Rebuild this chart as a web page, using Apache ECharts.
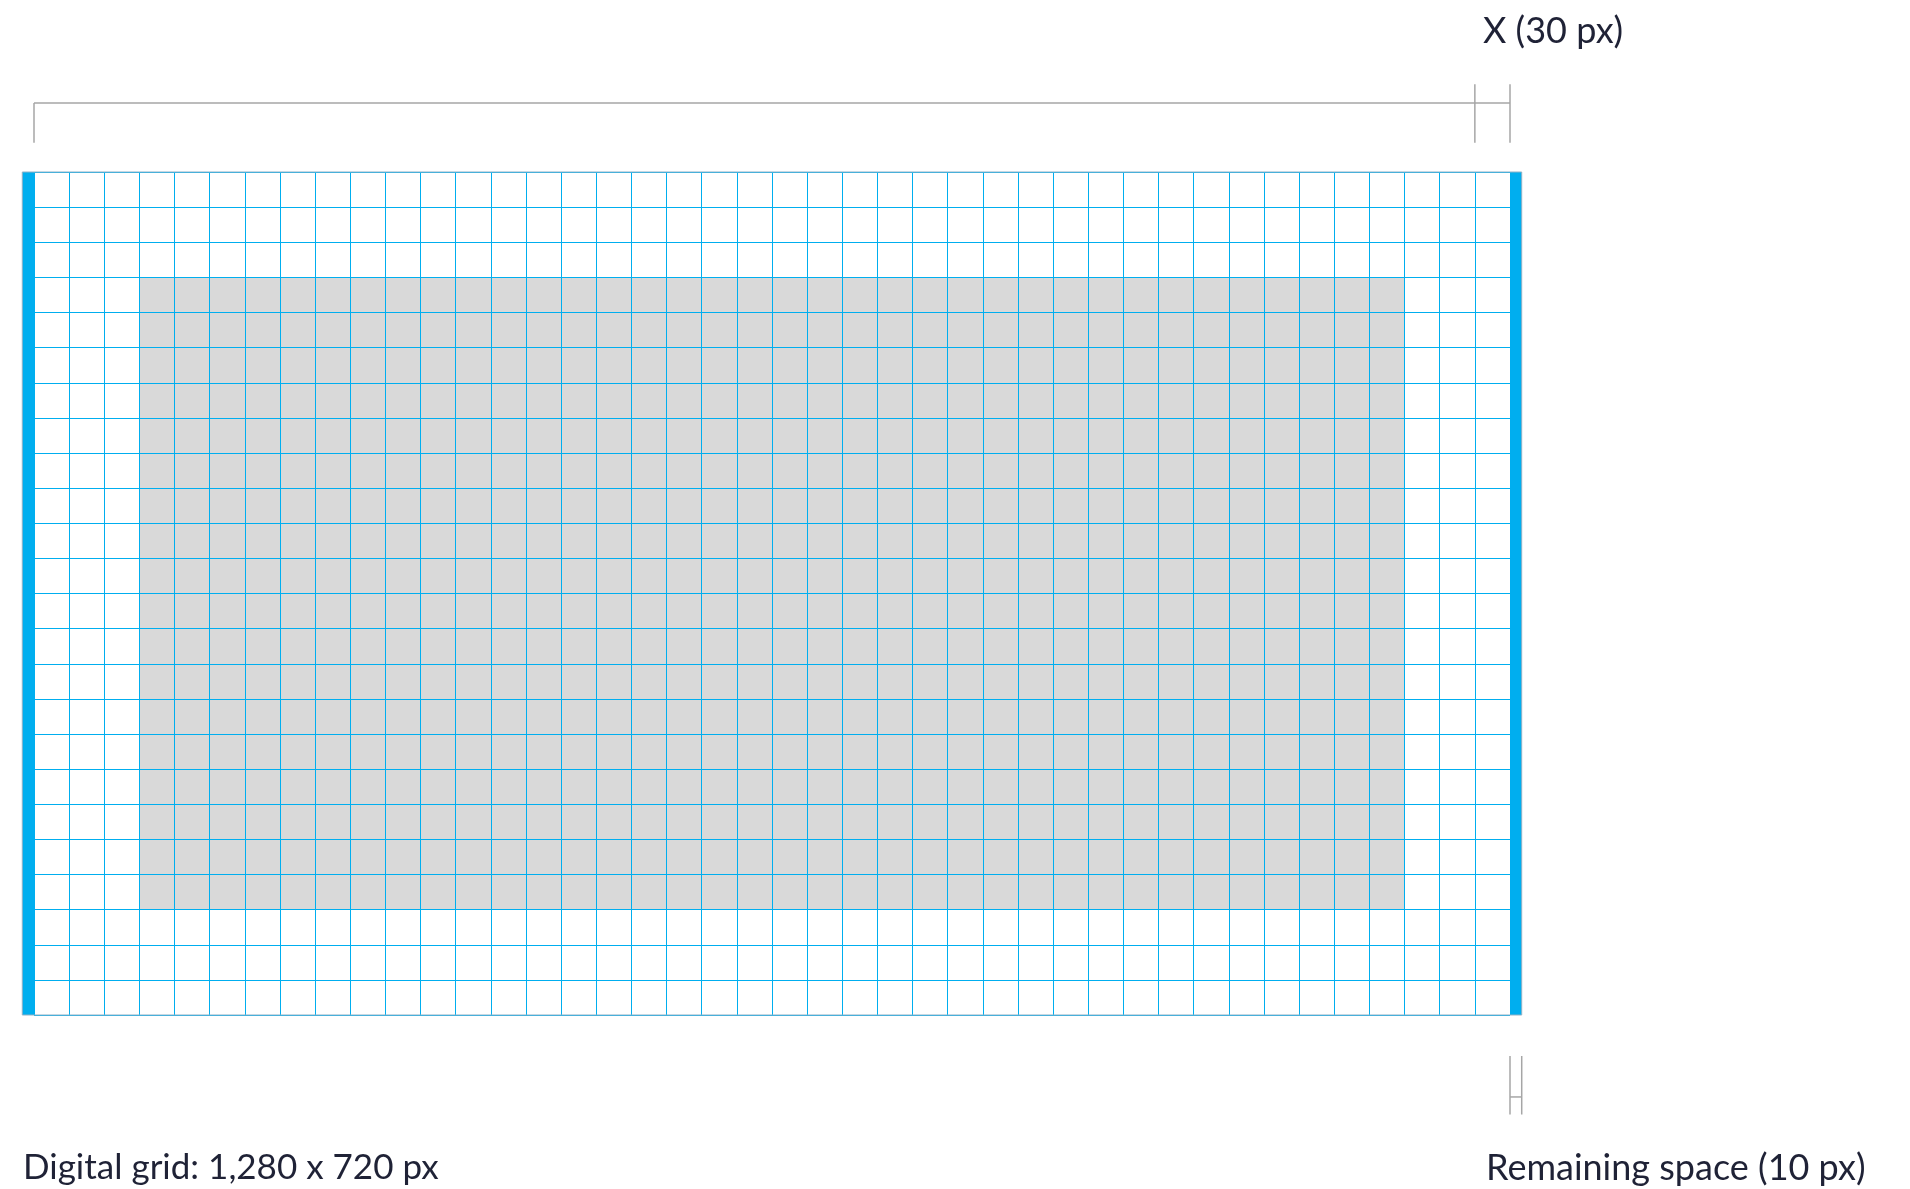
<!DOCTYPE html>
<html lang="en">
<head>
	<meta charset="UTF-8">
	<title>Digital grid</title>
	<script src="https://cdn.jsdelivr.net/npm/echarts@6/dist/echarts.min.js"></script>
	<style>
		html, body { margin: 0; padding: 0; background: #fff; }
	</style>
</head>
<body>
	<div id="main" style="width: 1910px;height: 1189px"></div>
	<script>
	// design values, in px of the 1280 x 720 layout
	var canvasSize = [1280, 720];
	var sideMargin = 10;          // remaining space on each side
	var cellSize = 30;            // X
	var gridCols = 42;
	var gridRows = 24;
	var contentCols = [3, 39];    // grey block, first and end column
	var contentRows = [3, 21];    // grey block, first and end row
	var labels = ['X (30 px)', 'Digital grid: 1,280 x 720 px', 'Remaining space (10 px)'];

	var innerW = gridCols * cellSize;   // 1260
	var innerH = gridRows * cellSize;   // 720

	var blue = '#00aeef';
	var dimGrey = '#a6a6a6';
	var textColor = '#1f2236';

	// rectangles [x0, y0, x1, y1, kind]
	var rects = [
		[contentCols[0] * cellSize, contentRows[0] * cellSize, contentCols[1] * cellSize, contentRows[1] * cellSize, 'content'],
		[-sideMargin, 0, 0, innerH, 'bar'],
		[innerW, 0, innerW + sideMargin, innerH, 'bar'],
		[-sideMargin, 0, innerW + sideMargin, innerH, 'frame']
	];

	// dimension lines [x0, y0, x1, y1]
	var topY = -59, tickTop = -75, tickBot = -25;
	var dims = [
		[0, topY, innerW, topY],
		[0, topY, 0, tickBot],
		[innerW - cellSize, tickTop, innerW - cellSize, tickBot],
		[innerW, tickTop, innerW, tickBot],
		[innerW, 755, innerW, 805],
		[innerW + sideMargin, 755, innerW + sideMargin, 805],
		[innerW, 790, innerW + sideMargin, 790]
	];

	function rectItem(params, api) {
		var p0 = api.coord([api.value(0), api.value(1)]);
		var p1 = api.coord([api.value(2), api.value(3)]);
		var kind = rects[params.dataIndex][4];
		var style;
		if (kind === 'content') style = { fill: '#d9d9d9' };
		else if (kind === 'bar') style = { fill: blue };
		else style = { fill: 'none', stroke: '#8fb1c6', lineWidth: 1 };
		return {
			type: 'rect',
			shape: { x: p0[0], y: p0[1], width: p1[0] - p0[0], height: p1[1] - p0[1] },
			style: style
		};
	}

	function dimItem(params, api) {
		var p0 = api.coord([api.value(0), api.value(1)]);
		var p1 = api.coord([api.value(2), api.value(3)]);
		return {
			type: 'line',
			shape: { x1: p0[0], y1: p0[1], x2: p1[0], y2: p1[1] },
			style: { stroke: dimGrey, lineWidth: 1.5 }
		};
	}

	var hiddenAxis = {
		type: 'value',
		interval: cellSize,
		axisLabel: { show: false },
		axisLine: { show: false },
		axisTick: { show: false },
		splitLine: { show: true, lineStyle: { color: blue, width: 1 } }
	};

	var option = {
		backgroundColor: '#ffffff',
		animation: false,
		grid: { left: 34, top: 172, width: 1476, height: 843 },
		xAxis: Object.assign({}, hiddenAxis, { min: 0, max: innerW }),
		yAxis: Object.assign({}, hiddenAxis, { min: 0, max: innerH, inverse: true }),
		graphic: [
			{ type: 'text', left: 1483, top: 13, style: { text: labels[0], font: '36px Lato', fill: textColor } },
			{ type: 'text', left: 23, top: 1150, style: { text: labels[1], font: '35px Lato', fill: textColor } },
			{ type: 'text', left: 1486, top: 1150, style: { text: labels[2], font: '36px Lato', fill: textColor } }
		],
		series: [
			{
				type: 'custom',
				z: -1,
				clip: false,
				renderItem: rectItem,
				data: rects.slice(0, 1)
			},
			{
				type: 'custom',
				z: 3,
				clip: false,
				renderItem: function (params, api) {
					params = Object.assign({}, params, { dataIndex: params.dataIndex + 1 });
					return rectItem(params, api);
				},
				data: rects.slice(1)
			},
			{
				type: 'custom',
				z: 3,
				clip: false,
				renderItem: dimItem,
				data: dims
			}
		]
	};

	var myChart = echarts.init(document.getElementById('main'));
	myChart.setOption(option);
	</script>
</body>
</html>
